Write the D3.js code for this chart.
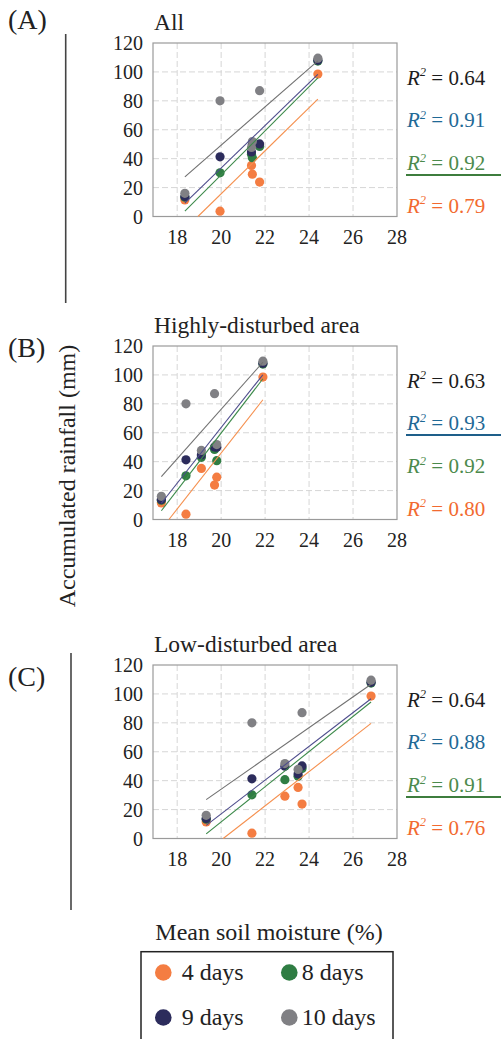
<!DOCTYPE html>
<html>
<head>
<meta charset="utf-8">
<script src="https://cdn.jsdelivr.net/npm/d3@7"></script>
</head>
<body style="margin:0">
<svg></svg>
<script>
// accumulated rainfall (mm) per event, same events in all three panels
const seriesNames = ["4 days", "8 days", "9 days", "10 days"];
const rain4 = [11.5, 3.7, 35.3, 29.3, 23.8, 98.5];
const rain8 = [13.3, 30.2, 43, 40.7, 48.5, 107.5];
const rain9 = [13.8, 41.3, 44.6, 50, 50.2, 108];
const rain10 = [16, 80, 47.8, 51.8, 87, 109.5];

// mean soil moisture (%) per event, one array per panel
const moistureAll = [18.35, 19.95, 21.38, 21.42, 21.75, 24.4];
const moistureHigh = [17.28, 18.4, 19.1, 19.8, 19.7, 21.9];
const moistureLow = [19.32, 21.4, 23.5, 22.9, 23.68, 26.82];

const panelLetters = ["(A)", "(B)", "(C)"];
const panelTitles = ["All", "Highly-disturbed area", "Low-disturbed area"];

// R² labels, listed 10 days, 9 days, 8 days, 4 days (top to bottom)
const r2All = ["0.64", "0.91", "0.92", "0.79"];
const r2High = ["0.63", "0.93", "0.92", "0.80"];
const r2Low = ["0.64", "0.88", "0.91", "0.76"];

const xTicks = [18, 20, 22, 24, 26, 28];
const yTicks = [0, 20, 40, 60, 80, 100, 120];

const series = [rain4, rain8, rain9, rain10];
const moistures = [moistureAll, moistureHigh, moistureLow];
const r2s = [r2All, r2High, r2Low];

const dotColor = ["#f47d42", "#2f7d43", "#2c2c5c", "#808084"];
const lineColor = ["#f5904f", "#3c8a4a", "#4d4c8c", "#707070"];
const r2Color = ["#1c1c1c", "#1f6996", "#4c8a4c", "#f26a30"];
const underlineColor = ["#3d7d3d", "#1e5f8a", "#3d7d3d"];
const underlineIdx = [2, 1, 2];

const width = 501, height = 1039;
const plotLeft = 153, plotRight = 397, plotH = 173.5;
const plotTops = [43, 346, 665];
const letterY = [29, 357, 686];
const fontFam = `"Liberation Serif", monospace`;

const svg = d3.select("svg").attr("width", width).attr("height", height);
svg.append("rect").attr("width", width).attr("height", height).attr("fill", "#fff");

// every label goes through here so the serif face is set on the element itself
function label(parent, size) {
  return parent.append("text")
    .style("font-family", fontFam)
    .style("font-size", size + "px")
    .style("fill", "#222");
}

const x = d3.scaleLinear().domain([16.9, 28]).range([plotLeft, plotRight]);

function fit(xs, ys) {
  const mx = d3.mean(xs), my = d3.mean(ys);
  let sxy = 0, sxx = 0;
  xs.forEach((v, i) => {
    sxy += (v - mx) * (ys[i] - my);
    sxx += (v - mx) * (v - mx);
  });
  const b = sxy / sxx;
  return { a: my - b * mx, b: b };
}

moistures.forEach((xs, p) => {
  const top = plotTops[p];
  const y = d3.scaleLinear().domain([0, 120]).range([top + plotH, top]);
  const g = svg.append("g");

  // grid
  yTicks.slice(1, -1).forEach(d => {
    g.append("line")
      .attr("x1", plotLeft).attr("x2", plotRight)
      .attr("y1", y(d)).attr("y2", y(d))
      .attr("stroke", "#d6d6d6").attr("stroke-dasharray", "6,3");
  });
  xTicks.slice(0, -1).forEach(d => {
    g.append("line")
      .attr("x1", x(d)).attr("x2", x(d))
      .attr("y1", top).attr("y2", top + plotH)
      .attr("stroke", "#d6d6d6").attr("stroke-dasharray", "6,3");
  });

  g.append("rect")
    .attr("x", plotLeft).attr("y", top)
    .attr("width", plotRight - plotLeft).attr("height", plotH)
    .attr("fill", "none").attr("stroke", "#9a9a9a").attr("stroke-width", 1.2);

  // tick labels
  yTicks.forEach(d => {
    label(g, 20)
      .attr("x", 143).attr("y", y(d)).attr("dy", "0.35em")
      .attr("text-anchor", "end")
      .text(d);
  });
  xTicks.forEach(d => {
    label(g, 20)
      .attr("x", x(d)).attr("y", top + plotH + 27)
      .attr("text-anchor", "middle")
      .text(d);
  });

  // title and panel letter
  label(g, 23.5).attr("x", 154).attr("y", top - 13.5).text(panelTitles[p]);
  label(g, 28).attr("x", 8).attr("y", letterY[p]).text(panelLetters[p]);

  // points
  series.forEach((ys, s) => {
    g.selectAll("circle.s" + s)
      .data(ys)
      .enter()
      .append("circle")
      .attr("class", "s" + s)
      .attr("cx", (d, i) => x(xs[i]))
      .attr("cy", d => y(d))
      .attr("r", 4.6)
      .attr("fill", dotColor[s]);
  });

  // trend lines
  series.forEach((ys, s) => {
    const f = fit(xs, ys);
    let x0 = d3.min(xs);
    const x1 = d3.max(xs);
    if (f.a + f.b * x0 < 0) x0 = -f.a / f.b;
    g.append("line")
      .attr("x1", x(x0)).attr("y1", y(f.a + f.b * x0))
      .attr("x2", x(x1)).attr("y2", y(f.a + f.b * x1))
      .attr("stroke", lineColor[s]).attr("stroke-width", 1.1);
  });

  // R² labels
  const offs = [41.5, 84, 127, 169.5];
  r2s[p].forEach((v, k) => {
    const t = label(g, 21)
      .attr("x", 407).attr("y", top + offs[k])
      .style("fill", r2Color[k]);
    t.append("tspan").style("font-style", "italic").text("R");
    t.append("tspan").style("font-style", "italic").style("font-size", "12.5px")
      .attr("dy", -8.5).text("2");
    t.append("tspan").attr("dy", 8.5).text(" = " + v);
  });
  const uk = underlineIdx[p];
  g.append("line")
    .attr("x1", 406).attr("x2", width)
    .attr("y1", top + offs[uk] + 5).attr("y2", top + offs[uk] + 5)
    .attr("stroke", underlineColor[p]).attr("stroke-width", 2);
});

// left bracket lines
svg.append("line").attr("x1", 65.7).attr("x2", 65.7).attr("y1", 34).attr("y2", 303)
  .attr("stroke", "#444").attr("stroke-width", 1.6);
svg.append("line").attr("x1", 71).attr("x2", 71).attr("y1", 653).attr("y2", 910)
  .attr("stroke", "#444").attr("stroke-width", 1.6);

// axis labels
label(svg, 24)
  .attr("transform", "translate(74.5,476) rotate(-90)")
  .attr("text-anchor", "middle")
  .text("Accumulated rainfall (mm)");

label(svg, 24)
  .attr("x", 269).attr("y", 940)
  .attr("text-anchor", "middle")
  .text("Mean soil moisture (%)");

// legend
svg.append("rect")
  .attr("x", 141).attr("y", 951.7)
  .attr("width", 252).attr("height", 110)
  .attr("fill", "none").attr("stroke", "#222").attr("stroke-width", 1.5);

const legX = [163.3, 289.3], legY = [972.5, 1017.5];
seriesNames.forEach((name, d) => {
  const lg = svg.append("g")
    .attr("transform", `translate(${legX[d % 2]},${legY[Math.floor(d / 2)]})`);
  lg.append("circle").attr("r", 8.3).attr("fill", dotColor[d]);
  label(lg, 24)
    .attr("x", d % 2 === 0 ? 18.4 : 12.4)
    .attr("y", 7.8)
    .text(name);
});
</script>
</body>
</html>
